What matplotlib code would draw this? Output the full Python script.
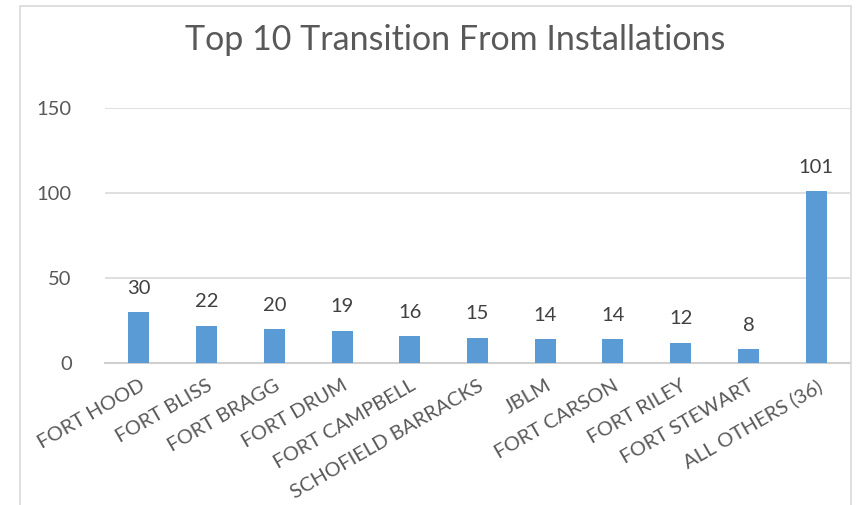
import matplotlib.pyplot as plt
from matplotlib.patches import Rectangle

# dados
installations = ["FORT HOOD", "FORT BLISS", "FORT BRAGG", "FORT DRUM", "FORT CAMPBELL",
                 "SCHOFIELD BARRACKS", "JBLM", "FORT CARSON", "FORT RILEY", "FORT STEWART",
                 "ALL OTHERS (36)"]
counts = [30, 22, 20, 19, 16, 15, 14, 14, 12, 8, 101]
yticks = [0, 50, 100, 150]

W, H = 858, 505
fig = plt.figure(figsize=(W / 100, H / 100), dpi=100)
plt.rcParams["font.family"] = ["Lato", "DejaVu Sans"]
grey = "#595959"

# borda do grafico (estilo Excel)
fig.patches.append(Rectangle((20 / W, -0.1), (851 - 20) / W, 1.1 - 6 / H,
                             transform=fig.transFigure, fill=False,
                             edgecolor="#d9d9d9", linewidth=1.2))

ax = fig.add_axes([105 / W, 1 - 363 / H, (850 - 105) / W, (363 - 108) / H])
x = range(len(counts))
bars = ax.bar(x, counts, width=0.31, color="#5B9BD5", zorder=3)
for xi, v in zip(x, counts):
    ax.text(xi, v + 9, str(v), ha="center", va="bottom", fontsize=14.5, color="#404040")

ax.set_xlim(-0.5, len(counts) - 0.5)
ax.set_ylim(0, 150)
ax.set_yticks(yticks)
ax.set_yticklabels([str(t) for t in yticks], fontsize=14.5, color=grey)
ax.tick_params(axis="y", length=0, pad=24)
ax.tick_params(axis="x", length=0, pad=10)
ax.set_xticks(list(x))
ax.set_xticklabels(installations, rotation=30, ha="right", rotation_mode="anchor",
                   fontsize=14.5, color=grey)
ax.grid(axis="y", color="#d9d9d9", linewidth=1.2, zorder=0)
for s in ["top", "right", "left"]:
    ax.spines[s].set_visible(False)
ax.spines["bottom"].set_color("#d0d0d0")
ax.spines["bottom"].set_linewidth(1.5)

fig.text(455 / W, 1 - 40 / H, "Top 10 Transition From Installations", ha="center",
         va="center", fontsize=24.5, color=grey)

fig.savefig("out.png", dpi=100)
